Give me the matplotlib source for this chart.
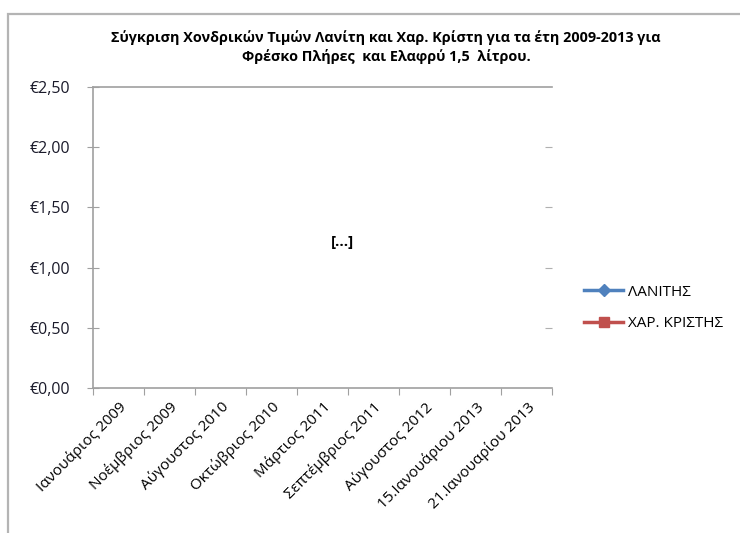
import numpy as np
import matplotlib.pyplot as plt
from matplotlib.patches import Rectangle

plt.rcParams['font.family'] = ['Open Sans', 'DejaVu Sans']

categories = ['Ιανουάριος 2009', 'Νοέμβριος 2009', 'Αύγουστος 2010',
              'Οκτώβριος 2010', 'Μάρτιος 2011', 'Σεπτέμβριος 2011',
              'Αύγουστος 2012', '15.Ιανουάριου 2013', '21.Ιανουαρίου 2013']
# the series carry no visible values in the reference (data omitted "[...]")
lanitis = [np.nan] * 9
kristis = [np.nan] * 9
yticks = [0.0, 0.5, 1.0, 1.5, 2.0, 2.5]

fig = plt.figure(figsize=(7.4, 5.33), dpi=100)
fig.patches.append(Rectangle((8 / 740, -0.1), 1.2, 1 - 14 / 533 + 0.1,
                             transform=fig.transFigure, fill=False,
                             edgecolor='#b4b4b4', linewidth=1.6))

ax = fig.add_axes([93 / 740, 1 - 388 / 533, (552 - 93) / 740, (388 - 87) / 533])
x = np.arange(len(categories))
ax.plot(x, lanitis, color='#4F81BD', marker='D', markersize=6, linewidth=2.5, label='ΛΑΝΙΤΗΣ')
ax.plot(x, kristis, color='#C0504D', marker='s', markersize=7, linewidth=2.5, label='ΧΑΡ. ΚΡΙΣΤΗΣ')

ax.set_xlim(-0.5, len(categories) - 0.5)
ax.set_ylim(0, 2.5)
ax.set_yticks(yticks)
ax.set_yticklabels(['€' + ('%.2f' % v).replace('.', ',') for v in yticks],
                   fontsize=11.5, color='#1a1a2a')
ax.set_xticks(np.arange(-0.5, len(categories), 1.0))
ax.set_xticklabels([])
ax.set_xticks(x, minor=True)
ax.set_xticklabels(categories, minor=True, rotation=45, ha='right', va='top',
                   rotation_mode='anchor', fontsize=11)
ax.tick_params(axis='x', which='minor', length=0, pad=8)
ax.tick_params(axis='x', which='major', length=5, color='#a0a0a0', direction='out')
ax.tick_params(axis='y', length=9, color='#a0a0a0', direction='inout', pad=12)

sec = ax.secondary_yaxis('right')
sec.set_yticks(yticks[1:-1])
sec.set_yticklabels([])
sec.tick_params(length=5, direction='in', color='#b0b0b0')
sec.spines['right'].set_visible(False)

ax.spines['right'].set_visible(False)
for s in ['left', 'bottom', 'top']:
    ax.spines[s].set_color('#a0a0a0')
    ax.spines[s].set_linewidth(1.2)

ax.text(0.543, 0.485, '[...]', transform=ax.transAxes, ha='center', va='center',
        fontsize=11, fontweight='bold')

fig.text(386 / 740, 1 - 38 / 533,
         'Σύγκριση Χονδρικών Τιμών Λανίτη και Χαρ. Κρίστη για τα έτη 2009-2013 για',
         ha='center', va='center', fontsize=10.4, fontweight='bold')
fig.text(386 / 740, 1 - 57 / 533, 'Φρέσκο Πλήρες  και Ελαφρύ 1,5  λίτρου.',
         ha='center', va='center', fontsize=10.4, fontweight='bold')

fig.legend(loc='center left', bbox_to_anchor=(570 / 740, 1 - 308 / 533),
           frameon=False, fontsize=11, handlelength=2.6, labelspacing=1.1,
           handletextpad=0.3)

fig.savefig('out.png', dpi=100)
